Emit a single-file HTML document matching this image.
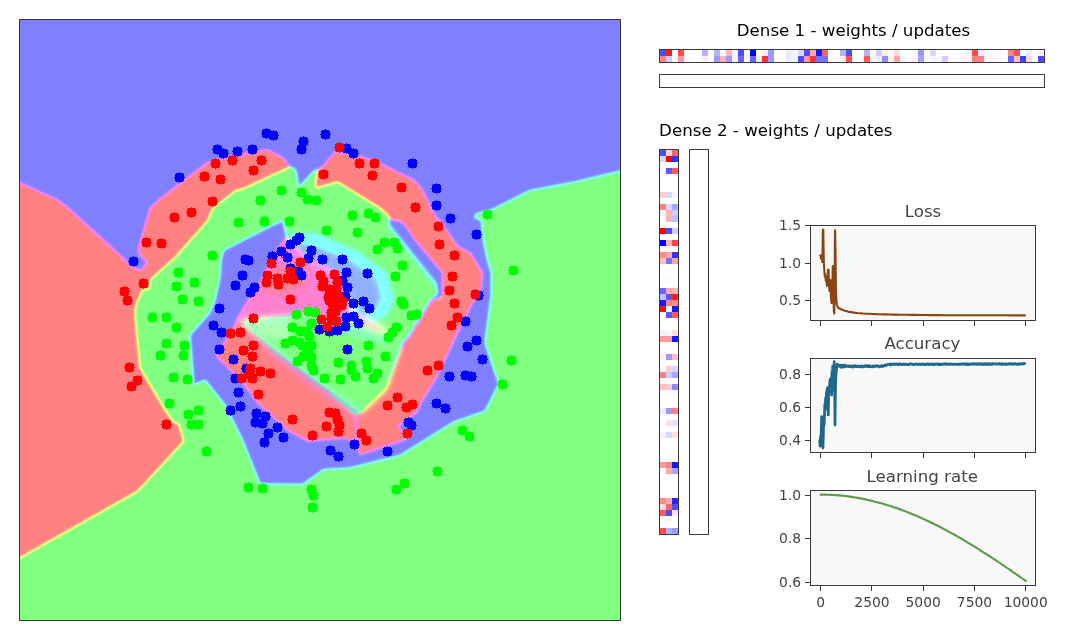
<!DOCTYPE html>
<html lang="en"><head><meta charset="utf-8"><title>Neural network training - spiral classification</title>
<style>html,body{margin:0;padding:0;background:#fff;overflow:hidden}svg{display:block}text{font-family:'DejaVu Sans','Liberation Sans',sans-serif}.t{font-size:16.67px;fill:#000}.s{font-size:16.67px;fill:#444}.k{font-size:13.89px;fill:#444}</style></head><body>
<svg width="1080" height="640" viewBox="0 0 1080 640">
<rect width="1080" height="640" fill="#fff"/>
<defs><clipPath id="ax"><rect x="20" y="20" width="600" height="600"/></clipPath><filter id="fs" x="-10" y="-10" width="670" height="670" filterUnits="userSpaceOnUse" color-interpolation-filters="sRGB"><feGaussianBlur stdDeviation="1.5"/></filter><filter id="fc" x="0" y="0" width="640" height="640" filterUnits="userSpaceOnUse" color-interpolation-filters="sRGB"><feComponentTransfer><feFuncR type="linear" slope="1" intercept="0.502"/><feFuncG type="linear" slope="1" intercept="0.502"/><feFuncB type="linear" slope="1" intercept="0.502"/></feComponentTransfer></filter><path id="m" d="M5 0h1v1h3v1h1v3h1v1h-1v3h-1v1h-3v1h-1v-1h-3v-1h-1v-3h-1v-1h1v-3h1v-1h3z"/></defs>
<g clip-path="url(#ax)">
<g filter="url(#fc)">
<g filter="url(#fs)">
<rect x="-10" y="-10" width="670" height="670" fill="#0f0"/>
<polygon points="-10.0,-10.0 650.0,-10.0 650.0,164.1 575.0,181.9 530.0,190.6 506.3,202.5 491.3,210.0 476.3,213.8 474.4,217.5 481.3,220.0 483.8,242.5 487.5,260.0 491.3,272.5 491.3,295.0 485.0,342.5 498.8,384.0 485.0,411.3 453.8,422.0 435.0,433.8 400.0,455.5 350.0,468.0 323.8,469.5 302.5,484.5 260.0,483.8 242.5,440.0 225.0,405.0 205.0,380.0 193.8,385.0 190.0,335.0 210.0,312.5 215.0,300.0 220.0,277.5 221.0,260.0 224.0,250.0 270.0,226.5 283.0,220.5 288.0,243.0 272.0,281.0 256.0,304.0 238.0,328.0 245.0,352.0 262.0,372.0 285.0,400.0 310.0,425.0 335.0,430.0 380.0,425.0 412.0,403.0 450.0,340.0 465.0,290.0 460.0,250.0 430.0,215.0 400.0,185.0 350.0,165.0 322.5,167.0 313.8,171.3 298.8,187.5 295.6,169.4 290.0,167.0 270.0,160.0 210.0,175.0 170.0,210.0 155.0,250.0 150.0,285.0 100.0,260.0 -10.0,200.0" fill="#00f"/>
<polygon points="388.8,219.0 390.0,225.0 402.5,240.0 436.3,282.5 437.5,293.8 430.3,299.5 409.0,334.5 401.5,343.3 386.0,381.0 389.0,381.0 404.0,345.0 412.0,336.0 433.0,301.0 445.0,295.0 445.0,270.0 420.0,240.0 405.0,222.0" fill="#00f"/>
<polygon points="-10.0,169.3 57.5,200.0 67.5,207.5 125.0,260.0 130.0,266.0 141.0,270.8 147.5,262.5 138.8,253.8 138.8,247.5 150.0,208.8 160.0,199.0 207.5,162.5 245.0,153.8 268.1,149.8 283.8,158.8 290.0,166.9 245.0,188.0 235.0,191.0 212.5,208.8 207.5,221.0 175.0,257.5 150.0,280.0 149.5,288.8 142.5,290.0 136.0,305.0 135.0,315.0 140.0,367.5 165.0,410.0 173.8,422.5 178.8,423.8 183.8,441.3 140.0,488.8 136.3,492.0 -10.0,574.9" fill="#f00"/>
<polygon points="317.0,170.6 322.5,167.0 335.0,151.9 360.0,156.0 377.5,162.5 413.8,180.0 422.5,190.0 435.0,216.0 440.0,221.0 457.5,246.3 470.0,253.0 482.5,272.5 481.3,287.5 470.0,307.5 460.0,327.5 440.0,370.0 435.0,380.0 422.5,400.0 416.3,412.5 405.0,421.0 398.0,426.0 407.5,438.8 358.8,455.0 355.0,442.5 345.0,438.0 307.5,441.0 287.5,430.0 257.5,402.5 241.0,380.0 216.3,356.3 233.8,327.0 236.3,321.3 248.8,300.0 262.5,280.0 277.5,250.0 286.3,237.5 294.0,246.0 305.0,262.0 318.0,285.0 318.0,305.0 305.0,330.0 308.0,350.0 318.0,372.0 335.0,398.0 355.0,415.0 360.0,412.5 383.8,390.0 388.5,380.5 403.5,344.3 411.0,335.5 432.3,300.5 442.0,297.5 442.5,272.5 415.0,240.0 405.0,225.0 400.0,221.3 391.0,219.5 387.5,215.0 380.0,208.0 337.5,181.9 315.0,188.0" fill="#f00"/>
<polygon points="354.6,415.0 356.0,415.0 359.5,455.0 358.0,455.0" fill="#00f"/>
<polygon points="286.3,237.5 277.5,250.0 262.5,280.0 248.8,300.0 236.3,321.3 248.0,323.0 260.0,304.0 274.0,284.0 289.0,254.0 296.0,248.0" fill="#ff0050"/>
</g>
<filter id="fb" x="150" y="150" width="400" height="400" filterUnits="userSpaceOnUse" color-interpolation-filters="sRGB"><feGaussianBlur stdDeviation="3.5"/></filter>
<g filter="url(#fb)">
<polygon points="289.0,242.0 300.0,254.0 320.0,266.0 342.0,277.0 349.0,300.0 352.0,318.0 340.0,326.0 312.0,311.0 275.0,315.0 242.0,321.0 252.0,302.0 266.0,282.0 280.0,260.0" fill="#ff0050"/>
<polygon points="268.0,270.0 300.0,266.0 306.0,285.0 282.0,294.0 264.0,290.0" fill="#ff0010"/>
<polygon points="236.0,321.0 275.0,314.0 312.0,310.5 342.0,325.0 365.0,332.0 392.0,341.0 386.0,384.0 358.0,418.0 311.0,384.0 274.0,356.0" fill="#100070"/>
<polygon points="241.0,321.7 276.0,318.5 311.0,315.5 340.0,330.0 368.0,338.0 400.0,346.0 386.0,388.0 361.0,412.0 315.5,378.5 277.5,350.5" fill="#00ff00"/>
<polygon points="239.0,321.5 262.0,318.5 288.0,318.0 292.0,342.0 264.0,336.0" fill="#30ff38"/>
<polygon points="288.0,234.0 318.0,236.0 354.0,252.0 384.0,273.0 392.0,298.0 386.0,314.0 372.0,320.0 357.0,316.0 348.0,295.0 342.0,275.0 320.0,265.0 300.0,253.0" fill="#00ffff"/>
<polygon points="291.0,240.0 315.0,243.0 350.0,258.0 378.0,277.0 384.0,298.0 377.0,312.0 362.0,316.0 349.0,300.0 342.0,277.0 320.0,266.0 300.0,254.0" fill="#1030ff"/>
<polygon points="350.0,312.0 366.0,317.0 388.0,329.0 384.0,335.0 364.0,327.0 350.0,320.0" fill="#903860"/>
<polygon points="391.0,222.0 402.0,232.0 420.0,256.0 438.0,280.0 440.0,292.0 436.0,284.0 402.5,241.0 390.0,226.0" fill="#0000ff"/>
</g>
</g>
<g fill="#00f" shape-rendering="crispEdges">
<use href="#m" x="294" y="232"/>
<use href="#m" x="291" y="235"/>
<use href="#m" x="285" y="239"/>
<use href="#m" x="276" y="246"/>
<use href="#m" x="282" y="252"/>
<use href="#m" x="267" y="251"/>
<use href="#m" x="306" y="245"/>
<use href="#m" x="303" y="253"/>
<use href="#m" x="317" y="254"/>
<use href="#m" x="240" y="254"/>
<use href="#m" x="243" y="255"/>
<use href="#m" x="237" y="270"/>
<use href="#m" x="230" y="280"/>
<use href="#m" x="249" y="282"/>
<use href="#m" x="245" y="287"/>
<use href="#m" x="285" y="263"/>
<use href="#m" x="293" y="266"/>
<use href="#m" x="296" y="270"/>
<use href="#m" x="337" y="254"/>
<use href="#m" x="341" y="267"/>
<use href="#m" x="362" y="268"/>
<use href="#m" x="342" y="282"/>
<use href="#m" x="337" y="275"/>
<use href="#m" x="358" y="296"/>
<use href="#m" x="348" y="298"/>
<use href="#m" x="340" y="291"/>
<use href="#m" x="214" y="303"/>
<use href="#m" x="208" y="320"/>
<use href="#m" x="216" y="327"/>
<use href="#m" x="214" y="344"/>
<use href="#m" x="228" y="354"/>
<use href="#m" x="241" y="363"/>
<use href="#m" x="230" y="373"/>
<use href="#m" x="314" y="324"/>
<use href="#m" x="324" y="326"/>
<use href="#m" x="364" y="303"/>
<use href="#m" x="341" y="312"/>
<use href="#m" x="348" y="311"/>
<use href="#m" x="353" y="318"/>
<use href="#m" x="340" y="321"/>
<use href="#m" x="332" y="325"/>
<use href="#m" x="342" y="344"/>
<use href="#m" x="444" y="371"/>
<use href="#m" x="445" y="213"/>
<use href="#m" x="471" y="229"/>
<use href="#m" x="247" y="144"/>
<use href="#m" x="296" y="144"/>
<use href="#m" x="298" y="136"/>
<use href="#m" x="341" y="143"/>
<use href="#m" x="348" y="148"/>
<use href="#m" x="261" y="128"/>
<use href="#m" x="268" y="130"/>
<use href="#m" x="212" y="144"/>
<use href="#m" x="218" y="148"/>
<use href="#m" x="232" y="146"/>
<use href="#m" x="320" y="129"/>
<use href="#m" x="174" y="172"/>
<use href="#m" x="128" y="256"/>
<use href="#m" x="259" y="437"/>
<use href="#m" x="407" y="158"/>
<use href="#m" x="431" y="183"/>
<use href="#m" x="431" y="200"/>
<use href="#m" x="473" y="290"/>
<use href="#m" x="460" y="316"/>
<use href="#m" x="471" y="335"/>
<use href="#m" x="462" y="341"/>
<use href="#m" x="477" y="354"/>
<use href="#m" x="460" y="370"/>
<use href="#m" x="466" y="371"/>
<use href="#m" x="431" y="398"/>
<use href="#m" x="440" y="403"/>
<use href="#m" x="403" y="417"/>
<use href="#m" x="406" y="420"/>
<use href="#m" x="382" y="446"/>
<use href="#m" x="233" y="387"/>
<use href="#m" x="235" y="401"/>
<use href="#m" x="225" y="405"/>
<use href="#m" x="251" y="408"/>
<use href="#m" x="260" y="411"/>
<use href="#m" x="250" y="417"/>
<use href="#m" x="257" y="418"/>
<use href="#m" x="272" y="422"/>
<use href="#m" x="263" y="428"/>
<use href="#m" x="278" y="432"/>
<use href="#m" x="325" y="445"/>
<use href="#m" x="333" y="451"/>
<use href="#m" x="349" y="439"/>
</g>
<g fill="#0f0" shape-rendering="crispEdges">
<use href="#m" x="207" y="250"/>
<use href="#m" x="321" y="225"/>
<use href="#m" x="352" y="227"/>
<use href="#m" x="379" y="237"/>
<use href="#m" x="389" y="237"/>
<use href="#m" x="372" y="244"/>
<use href="#m" x="392" y="243"/>
<use href="#m" x="397" y="260"/>
<use href="#m" x="390" y="271"/>
<use href="#m" x="396" y="296"/>
<use href="#m" x="291" y="309"/>
<use href="#m" x="303" y="306"/>
<use href="#m" x="310" y="307"/>
<use href="#m" x="306" y="318"/>
<use href="#m" x="287" y="322"/>
<use href="#m" x="301" y="326"/>
<use href="#m" x="280" y="338"/>
<use href="#m" x="287" y="335"/>
<use href="#m" x="297" y="340"/>
<use href="#m" x="306" y="340"/>
<use href="#m" x="301" y="347"/>
<use href="#m" x="306" y="352"/>
<use href="#m" x="292" y="356"/>
<use href="#m" x="306" y="360"/>
<use href="#m" x="308" y="365"/>
<use href="#m" x="319" y="373"/>
<use href="#m" x="398" y="299"/>
<use href="#m" x="406" y="310"/>
<use href="#m" x="411" y="309"/>
<use href="#m" x="391" y="322"/>
<use href="#m" x="387" y="327"/>
<use href="#m" x="383" y="332"/>
<use href="#m" x="363" y="340"/>
<use href="#m" x="380" y="351"/>
<use href="#m" x="333" y="357"/>
<use href="#m" x="346" y="360"/>
<use href="#m" x="346" y="365"/>
<use href="#m" x="361" y="356"/>
<use href="#m" x="362" y="363"/>
<use href="#m" x="372" y="368"/>
<use href="#m" x="350" y="371"/>
<use href="#m" x="335" y="374"/>
<use href="#m" x="368" y="373"/>
<use href="#m" x="482" y="209"/>
<use href="#m" x="276" y="185"/>
<use href="#m" x="255" y="195"/>
<use href="#m" x="296" y="187"/>
<use href="#m" x="302" y="194"/>
<use href="#m" x="311" y="195"/>
<use href="#m" x="347" y="210"/>
<use href="#m" x="363" y="208"/>
<use href="#m" x="370" y="212"/>
<use href="#m" x="259" y="216"/>
<use href="#m" x="284" y="216"/>
<use href="#m" x="295" y="326"/>
<use href="#m" x="304" y="331"/>
<use href="#m" x="294" y="337"/>
<use href="#m" x="298" y="351"/>
<use href="#m" x="303" y="344"/>
<use href="#m" x="233" y="217"/>
<use href="#m" x="173" y="267"/>
<use href="#m" x="189" y="277"/>
<use href="#m" x="171" y="281"/>
<use href="#m" x="177" y="294"/>
<use href="#m" x="193" y="296"/>
<use href="#m" x="147" y="312"/>
<use href="#m" x="161" y="312"/>
<use href="#m" x="171" y="322"/>
<use href="#m" x="161" y="338"/>
<use href="#m" x="179" y="340"/>
<use href="#m" x="155" y="350"/>
<use href="#m" x="178" y="350"/>
<use href="#m" x="168" y="372"/>
<use href="#m" x="182" y="374"/>
<use href="#m" x="164" y="398"/>
<use href="#m" x="193" y="405"/>
<use href="#m" x="183" y="409"/>
<use href="#m" x="186" y="419"/>
<use href="#m" x="193" y="419"/>
<use href="#m" x="201" y="446"/>
<use href="#m" x="243" y="482"/>
<use href="#m" x="257" y="483"/>
<use href="#m" x="508" y="265"/>
<use href="#m" x="506" y="355"/>
<use href="#m" x="497" y="379"/>
<use href="#m" x="457" y="425"/>
<use href="#m" x="464" y="431"/>
<use href="#m" x="432" y="466"/>
<use href="#m" x="399" y="478"/>
<use href="#m" x="391" y="484"/>
<use href="#m" x="306" y="484"/>
<use href="#m" x="308" y="490"/>
<use href="#m" x="307" y="502"/>
</g>
<g fill="#f00" shape-rendering="crispEdges">
<use href="#m" x="266" y="258"/>
<use href="#m" x="295" y="257"/>
<use href="#m" x="285" y="266"/>
<use href="#m" x="262" y="270"/>
<use href="#m" x="261" y="277"/>
<use href="#m" x="272" y="273"/>
<use href="#m" x="273" y="279"/>
<use href="#m" x="282" y="273"/>
<use href="#m" x="288" y="274"/>
<use href="#m" x="285" y="294"/>
<use href="#m" x="315" y="270"/>
<use href="#m" x="318" y="276"/>
<use href="#m" x="317" y="281"/>
<use href="#m" x="324" y="284"/>
<use href="#m" x="324" y="295"/>
<use href="#m" x="329" y="269"/>
<use href="#m" x="433" y="221"/>
<use href="#m" x="434" y="239"/>
<use href="#m" x="449" y="250"/>
<use href="#m" x="447" y="271"/>
<use href="#m" x="444" y="285"/>
<use href="#m" x="449" y="298"/>
<use href="#m" x="332" y="277"/>
<use href="#m" x="323" y="292"/>
<use href="#m" x="333" y="291"/>
<use href="#m" x="337" y="296"/>
<use href="#m" x="248" y="313"/>
<use href="#m" x="225" y="328"/>
<use href="#m" x="235" y="327"/>
<use href="#m" x="248" y="340"/>
<use href="#m" x="238" y="345"/>
<use href="#m" x="247" y="351"/>
<use href="#m" x="245" y="363"/>
<use href="#m" x="244" y="368"/>
<use href="#m" x="255" y="366"/>
<use href="#m" x="265" y="368"/>
<use href="#m" x="236" y="373"/>
<use href="#m" x="247" y="373"/>
<use href="#m" x="316" y="314"/>
<use href="#m" x="322" y="321"/>
<use href="#m" x="326" y="307"/>
<use href="#m" x="452" y="312"/>
<use href="#m" x="446" y="320"/>
<use href="#m" x="433" y="360"/>
<use href="#m" x="422" y="365"/>
<use href="#m" x="327" y="298"/>
<use href="#m" x="336" y="300"/>
<use href="#m" x="330" y="306"/>
<use href="#m" x="326" y="313"/>
<use href="#m" x="331" y="316"/>
<use href="#m" x="334" y="142"/>
<use href="#m" x="256" y="155"/>
<use href="#m" x="248" y="165"/>
<use href="#m" x="318" y="169"/>
<use href="#m" x="354" y="158"/>
<use href="#m" x="369" y="158"/>
<use href="#m" x="367" y="170"/>
<use href="#m" x="331" y="283"/>
<use href="#m" x="326" y="291"/>
<use href="#m" x="210" y="158"/>
<use href="#m" x="227" y="155"/>
<use href="#m" x="199" y="171"/>
<use href="#m" x="215" y="174"/>
<use href="#m" x="207" y="196"/>
<use href="#m" x="186" y="207"/>
<use href="#m" x="169" y="212"/>
<use href="#m" x="141" y="237"/>
<use href="#m" x="156" y="238"/>
<use href="#m" x="138" y="278"/>
<use href="#m" x="119" y="286"/>
<use href="#m" x="122" y="295"/>
<use href="#m" x="124" y="362"/>
<use href="#m" x="132" y="375"/>
<use href="#m" x="126" y="381"/>
<use href="#m" x="161" y="419"/>
<use href="#m" x="396" y="182"/>
<use href="#m" x="410" y="202"/>
<use href="#m" x="470" y="289"/>
<use href="#m" x="392" y="392"/>
<use href="#m" x="382" y="400"/>
<use href="#m" x="407" y="399"/>
<use href="#m" x="401" y="402"/>
<use href="#m" x="402" y="428"/>
<use href="#m" x="356" y="428"/>
<use href="#m" x="361" y="435"/>
<use href="#m" x="253" y="389"/>
<use href="#m" x="287" y="414"/>
<use href="#m" x="307" y="430"/>
<use href="#m" x="321" y="421"/>
<use href="#m" x="324" y="407"/>
<use href="#m" x="330" y="408"/>
<use href="#m" x="332" y="414"/>
<use href="#m" x="334" y="420"/>
<use href="#m" x="333" y="426"/>
</g>
</g>
<rect x="19.5" y="19.5" width="601" height="601" fill="none" stroke="#3a3a3a" stroke-width="1"/>
<text class="t" x="853.5" y="36.3" text-anchor="middle">Dense 1 - weights / updates</text>
<g shape-rendering="crispEdges">
<rect x="660" y="50.00" width="6" height="6.00" fill="#4d4dff"/>
<rect x="666" y="50.00" width="6" height="6.00" fill="#ff1919"/>
<rect x="672" y="50.00" width="6" height="6.00" fill="#fffbfb"/>
<rect x="678" y="50.00" width="6" height="6.00" fill="#ff4d4d"/>
<rect x="702" y="50.00" width="6" height="6.00" fill="#b2b2ff"/>
<rect x="714" y="50.00" width="6" height="6.00" fill="#b2b2ff"/>
<rect x="720" y="50.00" width="6" height="6.00" fill="#f4f4ff"/>
<rect x="726" y="50.00" width="6" height="6.00" fill="#ffb2b2"/>
<rect x="732" y="50.00" width="6" height="6.00" fill="#f5f5ff"/>
<rect x="738" y="50.00" width="6" height="6.00" fill="#4d4dff"/>
<rect x="744" y="50.00" width="6" height="6.00" fill="#fffbfb"/>
<rect x="750" y="50.00" width="6" height="6.00" fill="#0000ff"/>
<rect x="762" y="50.00" width="6" height="6.00" fill="#fff0f0"/>
<rect x="768" y="50.00" width="6" height="6.00" fill="#9999ff"/>
<rect x="786" y="50.00" width="6" height="6.00" fill="#ececff"/>
<rect x="792" y="50.00" width="6" height="6.00" fill="#f5f5ff"/>
<rect x="798" y="50.00" width="6" height="6.00" fill="#d9d9ff"/>
<rect x="804" y="50.00" width="6" height="6.00" fill="#4d4dff"/>
<rect x="810" y="50.00" width="6" height="6.00" fill="#ffa6a6"/>
<rect x="816" y="50.00" width="6" height="6.00" fill="#1919ff"/>
<rect x="822" y="50.00" width="6" height="6.00" fill="#ff6666"/>
<rect x="828" y="50.00" width="6" height="6.00" fill="#fffdfd"/>
<rect x="840" y="50.00" width="6" height="6.00" fill="#b2b2ff"/>
<rect x="846" y="50.00" width="6" height="6.00" fill="#4d4dff"/>
<rect x="864" y="50.00" width="6" height="6.00" fill="#b2b2ff"/>
<rect x="876" y="50.00" width="6" height="6.00" fill="#ccccff"/>
<rect x="882" y="50.00" width="6" height="6.00" fill="#ffecec"/>
<rect x="888" y="50.00" width="6" height="6.00" fill="#fff9f9"/>
<rect x="894" y="50.00" width="6" height="6.00" fill="#ffd9d9"/>
<rect x="912" y="50.00" width="6" height="6.00" fill="#f9f9ff"/>
<rect x="918" y="50.00" width="6" height="6.00" fill="#9999ff"/>
<rect x="930" y="50.00" width="6" height="6.00" fill="#d9d9ff"/>
<rect x="960" y="50.00" width="6" height="6.00" fill="#f7f7ff"/>
<rect x="966" y="50.00" width="6" height="6.00" fill="#f2f2ff"/>
<rect x="972" y="50.00" width="6" height="6.00" fill="#ff4d4d"/>
<rect x="978" y="50.00" width="6" height="6.00" fill="#ececff"/>
<rect x="984" y="50.00" width="6" height="6.00" fill="#fbfbff"/>
<rect x="990" y="50.00" width="6" height="6.00" fill="#fff9f9"/>
<rect x="996" y="50.00" width="6" height="6.00" fill="#fff9f9"/>
<rect x="1008" y="50.00" width="6" height="6.00" fill="#ff8080"/>
<rect x="1014" y="50.00" width="6" height="6.00" fill="#ff4d4d"/>
<rect x="1026" y="50.00" width="6" height="6.00" fill="#ececff"/>
<rect x="1038" y="50.00" width="6" height="6.00" fill="#ffecec"/>
<rect x="660" y="56.00" width="6" height="6.30" fill="#ff8080"/>
<rect x="666" y="56.00" width="6" height="6.30" fill="#ccccff"/>
<rect x="672" y="56.00" width="6" height="6.30" fill="#fffbfb"/>
<rect x="678" y="56.00" width="6" height="6.30" fill="#ff9999"/>
<rect x="684" y="56.00" width="6" height="6.30" fill="#fbfbff"/>
<rect x="702" y="56.00" width="6" height="6.30" fill="#ffecec"/>
<rect x="714" y="56.00" width="6" height="6.30" fill="#9999ff"/>
<rect x="720" y="56.00" width="6" height="6.30" fill="#ffb2b2"/>
<rect x="726" y="56.00" width="6" height="6.30" fill="#9999ff"/>
<rect x="732" y="56.00" width="6" height="6.30" fill="#fff0f0"/>
<rect x="738" y="56.00" width="6" height="6.30" fill="#6666ff"/>
<rect x="744" y="56.00" width="6" height="6.30" fill="#fffbfb"/>
<rect x="750" y="56.00" width="6" height="6.30" fill="#6666ff"/>
<rect x="756" y="56.00" width="6" height="6.30" fill="#ececff"/>
<rect x="762" y="56.00" width="6" height="6.30" fill="#ff3333"/>
<rect x="768" y="56.00" width="6" height="6.30" fill="#9999ff"/>
<rect x="780" y="56.00" width="6" height="6.30" fill="#fffdfd"/>
<rect x="786" y="56.00" width="6" height="6.30" fill="#ececff"/>
<rect x="792" y="56.00" width="6" height="6.30" fill="#f5f5ff"/>
<rect x="798" y="56.00" width="6" height="6.30" fill="#4d4dff"/>
<rect x="804" y="56.00" width="6" height="6.30" fill="#ff9999"/>
<rect x="810" y="56.00" width="6" height="6.30" fill="#ff3333"/>
<rect x="816" y="56.00" width="6" height="6.30" fill="#7373ff"/>
<rect x="822" y="56.00" width="6" height="6.30" fill="#7373ff"/>
<rect x="828" y="56.00" width="6" height="6.30" fill="#fffdfd"/>
<rect x="834" y="56.00" width="6" height="6.30" fill="#f9f9ff"/>
<rect x="840" y="56.00" width="6" height="6.30" fill="#ffecec"/>
<rect x="846" y="56.00" width="6" height="6.30" fill="#ff4d4d"/>
<rect x="864" y="56.00" width="6" height="6.30" fill="#ff5959"/>
<rect x="870" y="56.00" width="6" height="6.30" fill="#fff5f5"/>
<rect x="876" y="56.00" width="6" height="6.30" fill="#ececff"/>
<rect x="882" y="56.00" width="6" height="6.30" fill="#8c8cff"/>
<rect x="888" y="56.00" width="6" height="6.30" fill="#fff2f2"/>
<rect x="894" y="56.00" width="6" height="6.30" fill="#ffa6a6"/>
<rect x="900" y="56.00" width="6" height="6.30" fill="#f4f4ff"/>
<rect x="906" y="56.00" width="6" height="6.30" fill="#fff9f9"/>
<rect x="912" y="56.00" width="6" height="6.30" fill="#fff5f5"/>
<rect x="918" y="56.00" width="6" height="6.30" fill="#a6a6ff"/>
<rect x="924" y="56.00" width="6" height="6.30" fill="#f9f9ff"/>
<rect x="930" y="56.00" width="6" height="6.30" fill="#f5f5ff"/>
<rect x="936" y="56.00" width="6" height="6.30" fill="#f9f9ff"/>
<rect x="942" y="56.00" width="6" height="6.30" fill="#ccccff"/>
<rect x="960" y="56.00" width="6" height="6.30" fill="#fff2f2"/>
<rect x="966" y="56.00" width="6" height="6.30" fill="#fff2f2"/>
<rect x="972" y="56.00" width="6" height="6.30" fill="#ff8080"/>
<rect x="978" y="56.00" width="6" height="6.30" fill="#ff8080"/>
<rect x="984" y="56.00" width="6" height="6.30" fill="#fff7f7"/>
<rect x="990" y="56.00" width="6" height="6.30" fill="#fff4f4"/>
<rect x="996" y="56.00" width="6" height="6.30" fill="#fff4f4"/>
<rect x="1008" y="56.00" width="6" height="6.30" fill="#6666ff"/>
<rect x="1014" y="56.00" width="6" height="6.30" fill="#ffbfbf"/>
<rect x="1020" y="56.00" width="6" height="6.30" fill="#4040ff"/>
<rect x="1026" y="56.00" width="6" height="6.30" fill="#ffd9d9"/>
<rect x="1038" y="56.00" width="6" height="6.30" fill="#4d4dff"/>
</g>
<rect x="659.5" y="49.5" width="385" height="13" fill="none" stroke="#3a3a3a"/>
<rect x="659.5" y="74.5" width="385" height="13" fill="#fff" stroke="#3a3a3a"/>
<text class="t" x="659.1" y="136.3">Dense 2 - weights / updates</text>
<g shape-rendering="crispEdges">
<rect x="660.00" y="150" width="6.10" height="6" fill="#4d4dff"/>
<rect x="666.10" y="150" width="6.10" height="6" fill="#ffd9d9"/>
<rect x="672.20" y="150" width="6.10" height="6" fill="#ff6666"/>
<rect x="660.00" y="156" width="6.10" height="6" fill="#d9d9ff"/>
<rect x="666.10" y="156" width="6.10" height="6" fill="#ff0000"/>
<rect x="672.20" y="156" width="6.10" height="6" fill="#3333ff"/>
<rect x="660.00" y="162" width="6.10" height="6" fill="#fbfbff"/>
<rect x="660.00" y="168" width="6.10" height="6" fill="#fff7f7"/>
<rect x="666.10" y="168" width="6.10" height="6" fill="#5959ff"/>
<rect x="672.20" y="168" width="6.10" height="6" fill="#ff5959"/>
<rect x="666.10" y="174" width="6.10" height="6" fill="#fdfdff"/>
<rect x="660.00" y="192" width="6.10" height="6" fill="#ffcccc"/>
<rect x="666.10" y="192" width="6.10" height="6" fill="#d9d9ff"/>
<rect x="672.20" y="192" width="6.10" height="6" fill="#f4f4ff"/>
<rect x="660.00" y="204" width="6.10" height="6" fill="#ff8080"/>
<rect x="666.10" y="204" width="6.10" height="6" fill="#d9d9ff"/>
<rect x="672.20" y="204" width="6.10" height="6" fill="#a6a6ff"/>
<rect x="660.00" y="210" width="6.10" height="6" fill="#f0f0ff"/>
<rect x="666.10" y="210" width="6.10" height="6" fill="#ffb2b2"/>
<rect x="672.20" y="210" width="6.10" height="6" fill="#ccccff"/>
<rect x="666.10" y="216" width="6.10" height="6" fill="#ffb2b2"/>
<rect x="672.20" y="216" width="6.10" height="6" fill="#bfbfff"/>
<rect x="660.00" y="222" width="6.10" height="6" fill="#fffbfb"/>
<rect x="672.20" y="222" width="6.10" height="6" fill="#fdfdff"/>
<rect x="660.00" y="228" width="6.10" height="6" fill="#ff0000"/>
<rect x="666.10" y="228" width="6.10" height="6" fill="#4d4dff"/>
<rect x="672.20" y="228" width="6.10" height="6" fill="#ccccff"/>
<rect x="660.00" y="234" width="6.10" height="6" fill="#fbfbff"/>
<rect x="666.10" y="234" width="6.10" height="6" fill="#fffbfb"/>
<rect x="660.00" y="240" width="6.10" height="6" fill="#0000ff"/>
<rect x="666.10" y="240" width="6.10" height="6" fill="#ffb2b2"/>
<rect x="672.20" y="240" width="6.10" height="6" fill="#ff4040"/>
<rect x="660.00" y="246" width="6.10" height="6" fill="#fffdfd"/>
<rect x="666.10" y="246" width="6.10" height="6" fill="#fff9f9"/>
<rect x="672.20" y="246" width="6.10" height="6" fill="#fffdfd"/>
<rect x="660.00" y="252" width="6.10" height="6" fill="#ff8c8c"/>
<rect x="666.10" y="252" width="6.10" height="6" fill="#ffa6a6"/>
<rect x="672.20" y="252" width="6.10" height="6" fill="#3333ff"/>
<rect x="660.00" y="258" width="6.10" height="6" fill="#ffbfbf"/>
<rect x="666.10" y="258" width="6.10" height="6" fill="#7373ff"/>
<rect x="672.20" y="258" width="6.10" height="6" fill="#ffa6a6"/>
<rect x="660.00" y="276" width="6.10" height="6" fill="#fffbfb"/>
<rect x="666.10" y="276" width="6.10" height="6" fill="#fbfbff"/>
<rect x="660.00" y="282" width="6.10" height="6" fill="#fffbfb"/>
<rect x="672.20" y="282" width="6.10" height="6" fill="#f9f9ff"/>
<rect x="660.00" y="288" width="6.10" height="6" fill="#6666ff"/>
<rect x="666.10" y="288" width="6.10" height="6" fill="#ffa6a6"/>
<rect x="672.20" y="288" width="6.10" height="6" fill="#ffb2b2"/>
<rect x="660.00" y="294" width="6.10" height="6" fill="#bfbfff"/>
<rect x="666.10" y="294" width="6.10" height="6" fill="#5959ff"/>
<rect x="672.20" y="294" width="6.10" height="6" fill="#ff1919"/>
<rect x="660.00" y="300" width="6.10" height="6" fill="#1919ff"/>
<rect x="666.10" y="300" width="6.10" height="6" fill="#ff8080"/>
<rect x="672.20" y="300" width="6.10" height="6" fill="#ff8c8c"/>
<rect x="660.00" y="306" width="6.10" height="6" fill="#ff0d0d"/>
<rect x="666.10" y="306" width="6.10" height="6" fill="#f5f5ff"/>
<rect x="672.20" y="306" width="6.10" height="6" fill="#1919ff"/>
<rect x="660.00" y="312" width="6.10" height="6" fill="#fff5f5"/>
<rect x="666.10" y="312" width="6.10" height="6" fill="#5959ff"/>
<rect x="672.20" y="312" width="6.10" height="6" fill="#ff5959"/>
<rect x="666.10" y="324" width="6.10" height="6" fill="#fffdfd"/>
<rect x="672.20" y="324" width="6.10" height="6" fill="#fdfdff"/>
<rect x="660.00" y="330" width="6.10" height="6" fill="#f0f0ff"/>
<rect x="666.10" y="330" width="6.10" height="6" fill="#f5f5ff"/>
<rect x="672.20" y="330" width="6.10" height="6" fill="#ffe0e0"/>
<rect x="660.00" y="336" width="6.10" height="6" fill="#ff9999"/>
<rect x="666.10" y="336" width="6.10" height="6" fill="#ff9999"/>
<rect x="672.20" y="336" width="6.10" height="6" fill="#1919ff"/>
<rect x="660.00" y="354" width="6.10" height="6" fill="#ffecec"/>
<rect x="666.10" y="354" width="6.10" height="6" fill="#9999ff"/>
<rect x="672.20" y="354" width="6.10" height="6" fill="#ffbfbf"/>
<rect x="660.00" y="360" width="6.10" height="6" fill="#fffdfd"/>
<rect x="660.00" y="366" width="6.10" height="6" fill="#fbfbff"/>
<rect x="666.10" y="366" width="6.10" height="6" fill="#ffcccc"/>
<rect x="672.20" y="366" width="6.10" height="6" fill="#d9d9ff"/>
<rect x="660.00" y="372" width="6.10" height="6" fill="#ff8080"/>
<rect x="666.10" y="372" width="6.10" height="6" fill="#ccccff"/>
<rect x="672.20" y="372" width="6.10" height="6" fill="#a6a6ff"/>
<rect x="660.00" y="378" width="6.10" height="6" fill="#fffdfd"/>
<rect x="660.00" y="384" width="6.10" height="6" fill="#ffbfbf"/>
<rect x="666.10" y="384" width="6.10" height="6" fill="#ffcccc"/>
<rect x="672.20" y="384" width="6.10" height="6" fill="#8c8cff"/>
<rect x="666.10" y="390" width="6.10" height="6" fill="#fffbfb"/>
<rect x="672.20" y="390" width="6.10" height="6" fill="#fbfbff"/>
<rect x="660.00" y="402" width="6.10" height="6" fill="#fffdfd"/>
<rect x="672.20" y="402" width="6.10" height="6" fill="#fdfdff"/>
<rect x="660.00" y="408" width="6.10" height="6" fill="#ececff"/>
<rect x="666.10" y="408" width="6.10" height="6" fill="#9999ff"/>
<rect x="672.20" y="408" width="6.10" height="6" fill="#ff8080"/>
<rect x="666.10" y="420" width="6.10" height="6" fill="#ffe0e0"/>
<rect x="672.20" y="420" width="6.10" height="6" fill="#e0e0ff"/>
<rect x="660.00" y="432" width="6.10" height="6" fill="#fff0f0"/>
<rect x="666.10" y="432" width="6.10" height="6" fill="#d9d9ff"/>
<rect x="672.20" y="432" width="6.10" height="6" fill="#ffe0e0"/>
<rect x="672.20" y="444" width="6.10" height="6" fill="#fdfdff"/>
<rect x="660.00" y="450" width="6.10" height="6" fill="#fffbfb"/>
<rect x="666.10" y="450" width="6.10" height="6" fill="#fffdfd"/>
<rect x="672.20" y="450" width="6.10" height="6" fill="#fdfdff"/>
<rect x="660.00" y="456" width="6.10" height="6" fill="#f9f9ff"/>
<rect x="666.10" y="456" width="6.10" height="6" fill="#fff9f9"/>
<rect x="660.00" y="462" width="6.10" height="6" fill="#ff9999"/>
<rect x="666.10" y="462" width="6.10" height="6" fill="#ff8080"/>
<rect x="672.20" y="462" width="6.10" height="6" fill="#1919ff"/>
<rect x="666.10" y="468" width="6.10" height="6" fill="#ffa6a6"/>
<rect x="672.20" y="468" width="6.10" height="6" fill="#a6a6ff"/>
<rect x="660.00" y="498" width="6.10" height="6" fill="#ff8c8c"/>
<rect x="666.10" y="498" width="6.10" height="6" fill="#ffa6a6"/>
<rect x="672.20" y="498" width="6.10" height="6" fill="#2626ff"/>
<rect x="660.00" y="504" width="6.10" height="6" fill="#ffd9d9"/>
<rect x="666.10" y="504" width="6.10" height="6" fill="#ff6666"/>
<rect x="672.20" y="504" width="6.10" height="6" fill="#4d4dff"/>
<rect x="660.00" y="510" width="6.10" height="6" fill="#ff5959"/>
<rect x="666.10" y="510" width="6.10" height="6" fill="#4d4dff"/>
<rect x="672.20" y="510" width="6.10" height="6" fill="#ffe0e0"/>
<rect x="660.00" y="516" width="6.10" height="6" fill="#f9f9ff"/>
<rect x="666.10" y="516" width="6.10" height="6" fill="#fff7f7"/>
<rect x="660.00" y="528" width="6.10" height="6" fill="#ff4d4d"/>
<rect x="666.10" y="528" width="6.10" height="6" fill="#b2b2ff"/>
<rect x="672.20" y="528" width="6.10" height="6" fill="#9999ff"/>
</g>
<rect x="659.5" y="149.5" width="19" height="385" fill="none" stroke="#3a3a3a"/>
<rect x="689.5" y="149.5" width="19" height="385" fill="#fff" stroke="#3a3a3a"/>
<rect x="810.5" y="225.5" width="225.0" height="95.0" fill="#f8f8f8" stroke="#3a3a3a"/>
<text class="s" x="923.0" y="217.0" text-anchor="middle">Loss</text>
<text class="k" x="801.2" y="230.2" text-anchor="end">1.5</text>
<text class="k" x="801.2" y="268.2" text-anchor="end">1.0</text>
<text class="k" x="801.2" y="305.2" text-anchor="end">0.5</text>
<path d="M820.5 321.0v5M871.5 321.0v5M923.5 321.0v5M974.5 321.0v5M1025.5 321.0v5M810.0 225.5h-5M810.0 263.5h-5M810.0 300.5h-5" stroke="#3a3a3a" stroke-width="1" fill="none"/>
<path d="M819.7 254.8L820.6 255.6L820.9 258.5L821.5 256.5L822.3 262.0L822.6 247.0L822.9 229.6L823.3 229.8L823.8 262.0L824.3 270.0L824.8 276.7L825.3 274.0L825.8 281.0L826.4 278.0L827.0 286.0L827.6 280.0L828.0 270.0L828.5 269.5L829.0 284.0L829.5 291.0L830.0 286.0L830.4 280.0L830.9 296.0L831.5 303.0L832.0 298.0L832.4 285.0L832.8 266.0L833.2 268.0L833.5 300.0L833.9 311.0L834.3 313.5L834.6 290.0L834.9 240.0L835.1 230.2L835.5 250.0L835.9 285.0L836.3 300.0L836.9 304.5L837.5 306.5L838.2 307.8L839.0 308.3L842.0 309.7L845.0 310.8L848.0 311.6L851.0 312.1L854.0 312.6L857.0 313.0L860.0 313.2L863.0 313.5L866.0 313.7L869.0 313.8L872.0 314.0L875.0 314.1L878.0 314.2L881.0 314.3L884.0 314.4L887.0 314.4L890.0 314.5L893.0 314.6L896.0 314.6L899.0 314.7L902.0 314.7L905.0 314.8L908.0 314.8L911.0 314.9L914.0 314.9L917.0 314.9L920.0 315.0L923.0 315.0L926.0 315.0L929.0 315.1L932.0 315.1L935.0 315.1L938.0 315.1L941.0 315.1L944.0 315.2L947.0 315.2L950.0 315.2L953.0 315.2L956.0 315.2L959.0 315.2L962.0 315.2L965.0 315.3L968.0 315.3L971.0 315.3L974.0 315.3L977.0 315.3L980.0 315.3L983.0 315.3L986.0 315.3L989.0 315.3L992.0 315.3L995.0 315.3L998.0 315.3L1001.0 315.3L1004.0 315.3L1007.0 315.3L1010.0 315.4L1013.0 315.4L1016.0 315.4L1019.0 315.4L1022.0 315.4L1025.0 315.4L1025.7 315.4" fill="none" stroke="#8b4513" stroke-width="2.1" stroke-linejoin="round" stroke-linecap="butt"/>
<rect x="810.5" y="358.5" width="225.0" height="94.0" fill="#f8f8f8" stroke="#3a3a3a"/>
<text class="s" x="922.4" y="349.0" text-anchor="middle">Accuracy</text>
<text class="k" x="801.2" y="379.2" text-anchor="end">0.8</text>
<text class="k" x="801.2" y="412.2" text-anchor="end">0.6</text>
<text class="k" x="801.2" y="445.2" text-anchor="end">0.4</text>
<path d="M820.5 453.0v5M871.5 453.0v5M923.5 453.0v5M974.5 453.0v5M1025.5 453.0v5M810.0 374.5h-5M810.0 407.5h-5M810.0 440.5h-5" stroke="#3a3a3a" stroke-width="1" fill="none"/>
<path d="M819.7 439.2L819.9 445.0L820.2 446.2L820.6 436.0L821.0 441.0L821.4 424.0L821.7 416.5L822.1 430.0L822.6 445.0L823.0 447.8L823.4 432.0L823.8 420.0L824.2 425.0L824.8 404.0L825.2 410.0L825.6 398.0L826.0 402.0L826.4 392.0L826.8 396.0L827.2 388.0L827.6 400.0L828.3 415.0L828.6 395.0L828.8 386.8L829.3 392.0L829.8 382.0L830.3 379.0L830.8 390.0L831.3 378.0L831.6 395.0L831.9 372.0L832.3 385.0L832.7 366.0L833.1 380.0L833.5 368.0L833.9 390.0L834.2 361.5L834.6 375.0L834.8 400.0L835.0 425.0L835.3 400.0L835.7 380.0L836.2 372.0L836.8 366.0L837.3 364.2L837.8 366.5L838.2 365.4L838.7 365.2L839.1 366.0L839.6 366.3L840.0 366.1L840.5 365.2L840.9 367.1L841.4 365.6L841.8 367.5L842.3 366.0L842.7 365.1L843.2 365.8L843.6 365.3L844.1 367.1L844.5 366.5L845.0 366.0L845.4 365.2L845.9 365.5L846.3 366.6L846.8 366.2L847.2 366.0L847.7 366.4L848.1 366.2L848.6 366.0L849.0 366.7L849.5 366.6L849.9 365.9L850.4 366.4L850.8 366.3L851.3 366.8L851.7 366.6L852.2 366.0L852.6 367.0L853.1 365.8L853.5 366.2L854.0 366.7L854.4 365.8L854.9 366.3L855.3 365.7L855.8 366.5L856.2 366.7L856.7 366.4L857.1 366.8L857.6 366.0L858.0 366.6L858.5 366.4L858.9 366.4L859.4 366.2L859.8 366.8L860.3 366.9L860.7 366.3L861.2 366.5L861.6 365.7L862.1 366.6L862.5 366.5L863.0 367.0L863.4 366.8L863.9 366.0L864.3 366.1L864.8 366.5L865.2 365.6L865.7 366.2L866.1 365.8L866.6 365.8L867.0 365.7L867.5 366.7L867.9 365.8L868.4 365.9L868.8 366.1L869.3 366.8L869.7 365.7L870.2 366.2L870.6 366.4L871.1 366.8L871.5 366.7L872.0 366.8L872.4 366.0L872.9 366.2L873.3 366.1L873.8 366.8L874.2 366.9L874.7 365.8L875.1 365.8L875.6 365.9L876.0 365.9L876.5 366.3L876.9 366.4L877.4 366.0L877.8 365.6L878.3 366.2L878.7 366.1L879.2 366.4L879.6 366.9L880.1 366.6L880.5 366.2L881.0 366.3L881.4 366.3L881.9 365.4L882.3 366.5L882.8 366.3L883.2 366.3L883.7 366.2L884.1 365.5L884.6 365.5L885.0 365.0L885.5 365.6L885.9 364.8L886.4 364.7L886.8 364.8L887.3 364.7L887.7 364.9L888.2 364.4L888.6 364.3L889.1 364.4L889.5 364.3L890.0 364.6L890.4 364.0L890.9 365.2L891.3 364.7L891.8 364.0L892.2 364.1L892.7 364.1L893.1 364.2L893.6 364.0L894.0 364.6L894.5 364.7L894.9 364.3L895.4 364.3L895.8 363.9L896.3 363.9L896.7 364.1L897.2 364.1L897.6 364.6L898.1 364.0L898.5 363.9L899.0 364.7L899.4 364.3L899.9 364.0L900.3 364.3L900.8 363.9L901.2 364.3L901.7 364.7L902.1 364.6L902.6 364.5L903.0 364.1L903.5 364.2L903.9 364.0L904.4 364.5L904.8 364.3L905.3 364.5L905.7 364.1L906.2 364.0L906.6 364.5L907.1 364.7L907.5 364.6L908.0 364.5L908.4 364.6L908.9 364.5L909.3 364.0L909.8 364.3L910.2 364.1L910.7 363.8L911.1 363.8L911.6 364.1L912.0 364.0L912.5 364.4L912.9 364.7L913.4 364.2L913.8 364.6L914.3 364.7L914.7 364.7L915.2 364.1L915.6 364.0L916.1 364.0L916.5 364.0L917.0 364.0L917.4 364.4L917.9 364.6L918.3 364.5L918.8 364.2L919.2 364.4L919.7 364.5L920.1 363.9L920.6 364.4L921.0 364.6L921.5 364.5L921.9 364.5L922.4 364.2L922.8 363.9L923.3 364.5L923.7 364.1L924.2 364.5L924.6 364.7L925.1 364.1L925.5 364.1L926.0 364.6L926.4 364.4L926.9 363.9L927.3 363.9L927.8 363.9L928.2 364.6L928.7 364.5L929.1 363.9L929.6 364.5L930.0 364.6L930.5 364.4L930.9 364.1L931.4 364.3L931.8 363.9L932.3 363.8L932.7 364.6L933.2 364.3L933.6 364.2L934.1 364.6L934.5 364.1L935.0 364.5L935.4 364.5L935.9 363.9L936.3 364.0L936.8 364.0L937.2 364.0L937.7 364.3L938.1 364.0L938.6 364.1L939.0 363.9L939.5 364.6L939.9 364.1L940.4 364.2L940.8 364.3L941.3 364.6L941.7 364.1L942.2 364.6L942.6 364.2L943.1 364.2L943.5 364.2L944.0 363.8L944.4 364.1L944.9 363.9L945.3 363.7L945.8 364.4L946.2 363.9L946.7 364.2L947.1 364.4L947.6 364.2L948.0 364.0L948.5 364.2L948.9 364.2L949.4 364.4L949.8 363.8L950.3 364.2L950.7 363.9L951.2 364.0L951.6 364.4L952.1 364.2L952.5 364.2L953.0 364.4L953.4 364.5L953.9 364.1L954.3 364.3L954.8 364.2L955.2 364.2L955.7 364.3L956.1 364.1L956.6 364.2L957.0 364.1L957.5 364.6L957.9 364.3L958.4 364.5L958.8 364.5L959.3 363.9L959.7 364.2L960.2 364.5L960.6 364.5L961.1 363.8L961.5 363.8L962.0 364.1L962.4 363.8L962.9 363.9L963.3 363.8L963.8 364.3L964.2 364.4L964.7 364.5L965.1 363.8L965.6 364.3L966.0 364.3L966.5 363.8L966.9 364.5L967.4 364.6L967.8 363.9L968.3 364.5L968.7 364.0L969.2 364.1L969.6 364.6L970.1 364.4L970.5 363.8L971.0 364.1L971.4 364.1L971.9 364.0L972.3 363.8L972.8 364.0L973.2 364.3L973.7 363.7L974.1 364.2L974.6 364.1L975.0 363.7L975.5 364.0L975.9 364.2L976.4 364.1L976.8 363.7L977.3 364.5L977.7 364.4L978.2 364.5L978.6 363.7L979.1 363.9L979.5 363.7L980.0 364.4L980.4 363.9L980.9 363.8L981.3 364.0L981.8 364.5L982.2 364.4L982.7 363.9L983.1 363.8L983.6 364.5L984.0 364.2L984.5 364.3L984.9 363.7L985.4 363.7L985.8 364.3L986.3 364.0L986.7 363.7L987.2 364.5L987.6 364.2L988.1 364.4L988.5 363.7L989.0 364.4L989.4 363.7L989.9 364.4L990.3 364.0L990.8 363.9L991.2 364.1L991.7 364.5L992.1 363.9L992.6 363.7L993.0 364.1L993.5 363.8L993.9 363.7L994.4 363.8L994.8 363.7L995.3 363.8L995.7 363.9L996.2 363.9L996.6 364.3L997.1 363.9L997.5 364.1L998.0 363.8L998.4 363.9L998.9 363.6L999.3 363.8L999.8 363.6L1000.2 364.3L1000.7 364.1L1001.1 363.8L1001.6 364.0L1002.0 364.4L1002.5 363.7L1002.9 364.3L1003.4 364.0L1003.8 364.0L1004.3 364.3L1004.7 363.9L1005.2 364.1L1005.6 364.2L1006.1 364.5L1006.5 363.9L1007.0 364.3L1007.4 364.2L1007.9 364.2L1008.3 364.0L1008.8 363.9L1009.2 363.6L1009.7 363.7L1010.1 363.6L1010.6 364.2L1011.0 363.8L1011.5 363.7L1011.9 363.7L1012.4 364.3L1012.8 364.4L1013.3 364.2L1013.7 363.8L1014.2 363.8L1014.6 363.8L1015.1 364.0L1015.5 363.7L1016.0 364.0L1016.4 363.8L1016.9 364.4L1017.3 364.4L1017.8 364.1L1018.2 363.8L1018.7 364.4L1019.1 363.8L1019.6 363.9L1020.0 363.6L1020.5 363.9L1020.9 364.0L1021.4 364.0L1021.8 363.7L1022.3 364.0L1022.7 363.6L1023.2 363.8L1023.6 363.6L1024.1 363.9L1024.5 363.6L1025.0 363.6L1025.4 363.8L1025.7 364.0" fill="none" stroke="#1f678c" stroke-width="2.7" stroke-linejoin="round"/>
<rect x="810.5" y="490.5" width="225.0" height="95.0" fill="#f8f8f8" stroke="#3a3a3a"/>
<text class="s" x="922.2" y="482.0" text-anchor="middle">Learning rate</text>
<text class="k" x="820.7" y="606.7" text-anchor="middle">0</text>
<text class="k" x="872.0" y="606.7" text-anchor="middle">2500</text>
<text class="k" x="923.2" y="606.7" text-anchor="middle">5000</text>
<text class="k" x="974.5" y="606.7" text-anchor="middle">7500</text>
<text class="k" x="1025.7" y="606.7" text-anchor="middle">10000</text>
<text class="k" x="801.2" y="500.2" text-anchor="end">1.0</text>
<text class="k" x="801.2" y="543.2" text-anchor="end">0.8</text>
<text class="k" x="801.2" y="587.2" text-anchor="end">0.6</text>
<path d="M820.5 586.0v5M871.5 586.0v5M923.5 586.0v5M974.5 586.0v5M1025.5 586.0v5M810.0 495.5h-5M810.0 538.5h-5M810.0 582.5h-5" stroke="#3a3a3a" stroke-width="1" fill="none"/>
<path d="M820.7 494.6L822.8 494.6L824.8 494.6L826.9 494.7L828.9 494.8L831.0 494.9L833.0 495.0L835.1 495.1L837.1 495.2L839.2 495.4L841.2 495.6L843.2 495.8L845.3 496.0L847.4 496.3L849.4 496.6L851.5 496.9L853.5 497.2L855.6 497.5L857.6 497.9L859.7 498.2L861.7 498.6L863.8 499.0L865.8 499.4L867.9 499.9L869.9 500.4L872.0 500.8L874.0 501.4L876.1 501.9L878.1 502.4L880.2 503.0L882.2 503.6L884.2 504.2L886.3 504.8L888.4 505.4L890.4 506.1L892.5 506.7L894.5 507.4L896.6 508.1L898.6 508.8L900.7 509.6L902.7 510.4L904.8 511.1L906.8 511.9L908.9 512.7L910.9 513.6L913.0 514.4L915.0 515.3L917.1 516.1L919.1 517.0L921.2 517.9L923.2 518.9L925.2 519.8L927.3 520.8L929.4 521.7L931.4 522.7L933.5 523.7L935.5 524.7L937.6 525.8L939.6 526.8L941.7 527.9L943.7 529.0L945.8 530.0L947.8 531.1L949.9 532.3L951.9 533.4L954.0 534.5L956.0 535.7L958.1 536.9L960.1 538.0L962.2 539.2L964.2 540.4L966.2 541.6L968.3 542.9L970.4 544.1L972.4 545.4L974.5 546.6L976.5 547.9L978.6 549.2L980.6 550.5L982.7 551.8L984.7 553.1L986.8 554.4L988.8 555.7L990.9 557.0L992.9 558.4L995.0 559.7L997.0 561.1L999.1 562.5L1001.1 563.9L1003.2 565.2L1005.2 566.6L1007.2 568.0L1009.3 569.4L1011.4 570.9L1013.4 572.3L1015.5 573.7L1017.5 575.1L1019.6 576.6L1021.6 578.0L1023.7 579.4L1025.7 580.9" fill="none" stroke="#5a9a48" stroke-width="2.1" stroke-linejoin="round" stroke-linecap="square"/>
</svg></body></html>
